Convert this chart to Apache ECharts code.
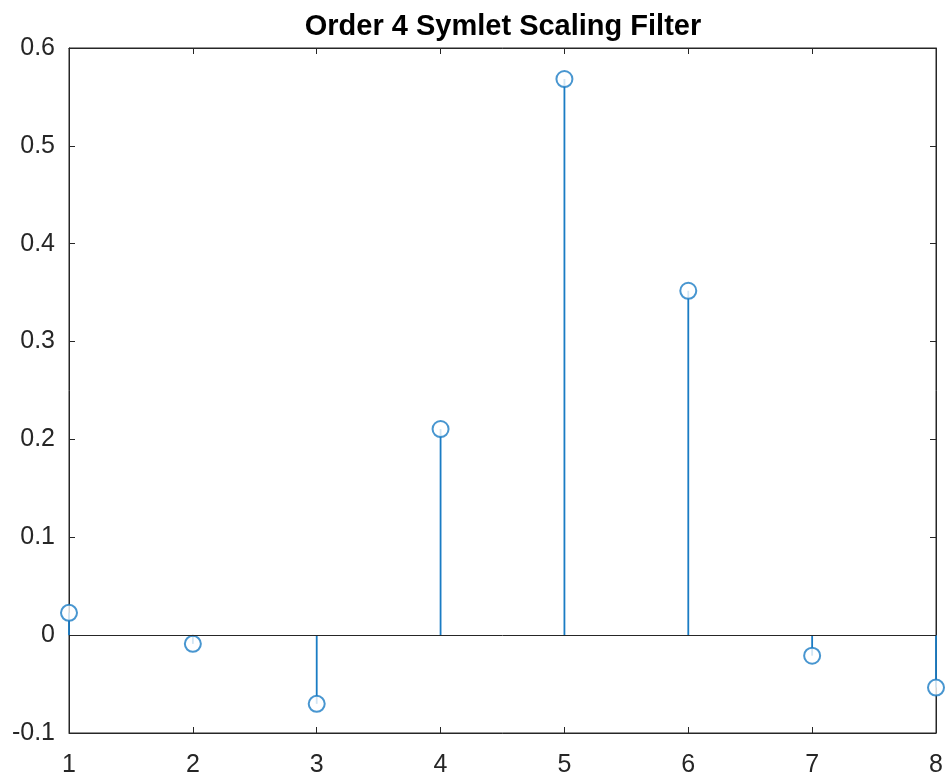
<!DOCTYPE html>
<html lang="en">
  <head>
    <meta charset="UTF-8" />
    <title>Order 4 Symlet Scaling Filter</title>
    <script src="https://cdn.jsdelivr.net/npm/echarts@6.0.0/dist/echarts.min.js"></script>
    <style>
      html, body { margin: 0; padding: 0; background: #fff; }
      #main { width: 945px; height: 774px; }
    </style>
  </head>
  <body>
    <div id="main"></div>
    <script>
      var indices = [1, 2, 3, 4, 5, 6, 7, 8];
      var coeffs = [0.0228, -0.0089, -0.0702, 0.2106, 0.5683, 0.3519, -0.0210, -0.0536];
      var yTicks = [-0.1, 0, 0.1, 0.2, 0.3, 0.4, 0.5, 0.6];

      var STEM = "#1a7cc4";
      var AXIS = "#262626";
      var FONT = "Liberation Sans, Arial, sans-serif";

      var points = indices.map((x, i) => [x, coeffs[i]]);
      var chart = echarts.init(document.getElementById("main"));

      var tickInside = { show: true, inside: true, length: 6, lineStyle: { color: AXIS, width: 1 } };

      chart.setOption({
        animation: false,
        title: {
          text: "Order 4 Symlet Scaling Filter",
          left: 498,
          textAlign: "center",
          top: 7,
          textStyle: { fontFamily: FONT, fontSize: 29, fontWeight: "bold", color: "#000" }
        },
        grid: {
          left: 69, right: 9, top: 48, bottom: 41,
          containLabel: false,
          outerBoundsMode: "none",
          show: true, borderColor: AXIS, borderWidth: 1
        },
        xAxis: [
          {
            type: "value", min: 1, max: 8, interval: 1, position: "bottom",
            axisLine: { show: true, onZero: false, lineStyle: { color: AXIS } },
            axisTick: tickInside,
            splitLine: { show: false },
            axisLabel: { fontFamily: FONT, fontSize: 25, color: AXIS, margin: 20 }
          },
          {
            type: "value", min: 1, max: 8, interval: 1, position: "top",
            axisLine: { show: true, onZero: false, lineStyle: { color: AXIS } },
            axisTick: tickInside,
            splitLine: { show: false },
            axisLabel: { show: false }
          }
        ],
        yAxis: [
          {
            type: "value", min: yTicks[0], max: yTicks[yTicks.length - 1], interval: 0.1,
            position: "left",
            axisLine: { show: true, onZero: false, lineStyle: { color: AXIS } },
            axisTick: tickInside,
            splitLine: { show: false },
            axisLabel: {
              fontFamily: FONT, fontSize: 25, color: AXIS, margin: 14,
              padding: [5, 0, 0, 0],
              formatter: v => String(+v.toFixed(1))
            }
          },
          {
            type: "value", min: yTicks[0], max: yTicks[yTicks.length - 1], interval: 0.1,
            position: "right",
            axisLine: { show: true, onZero: false, lineStyle: { color: AXIS } },
            axisTick: tickInside,
            splitLine: { show: false },
            axisLabel: { show: false }
          }
        ],
        series: [
          {
            // stems from the baseline to each value
            type: "custom",
            xAxisIndex: 0,
            yAxisIndex: 0,
            data: points,
            clip: false,
            renderItem: function (params, api) {
              var top = api.coord([api.value(0), api.value(1)]);
              var base = api.coord([api.value(0), 0]);
              return {
                type: "line",
                shape: { x1: base[0], y1: base[1], x2: top[0], y2: top[1] },
                style: { stroke: STEM, lineWidth: 1.8 }
              };
            },
            markLine: {
              silent: true,
              symbol: "none",
              label: { show: false },
              lineStyle: { color: AXIS, type: "solid", width: 1 },
              data: [{ yAxis: 0 }]
            },
            z: 2
          },
          {
            type: "scatter",
            xAxisIndex: 0,
            yAxisIndex: 0,
            data: points,
            clip: false,
            symbol: "emptyCircle",
            symbolSize: 16,
            itemStyle: { color: STEM, borderWidth: 1.8 },
            z: 4
          }
        ]
      });
    </script>
  </body>
</html>
